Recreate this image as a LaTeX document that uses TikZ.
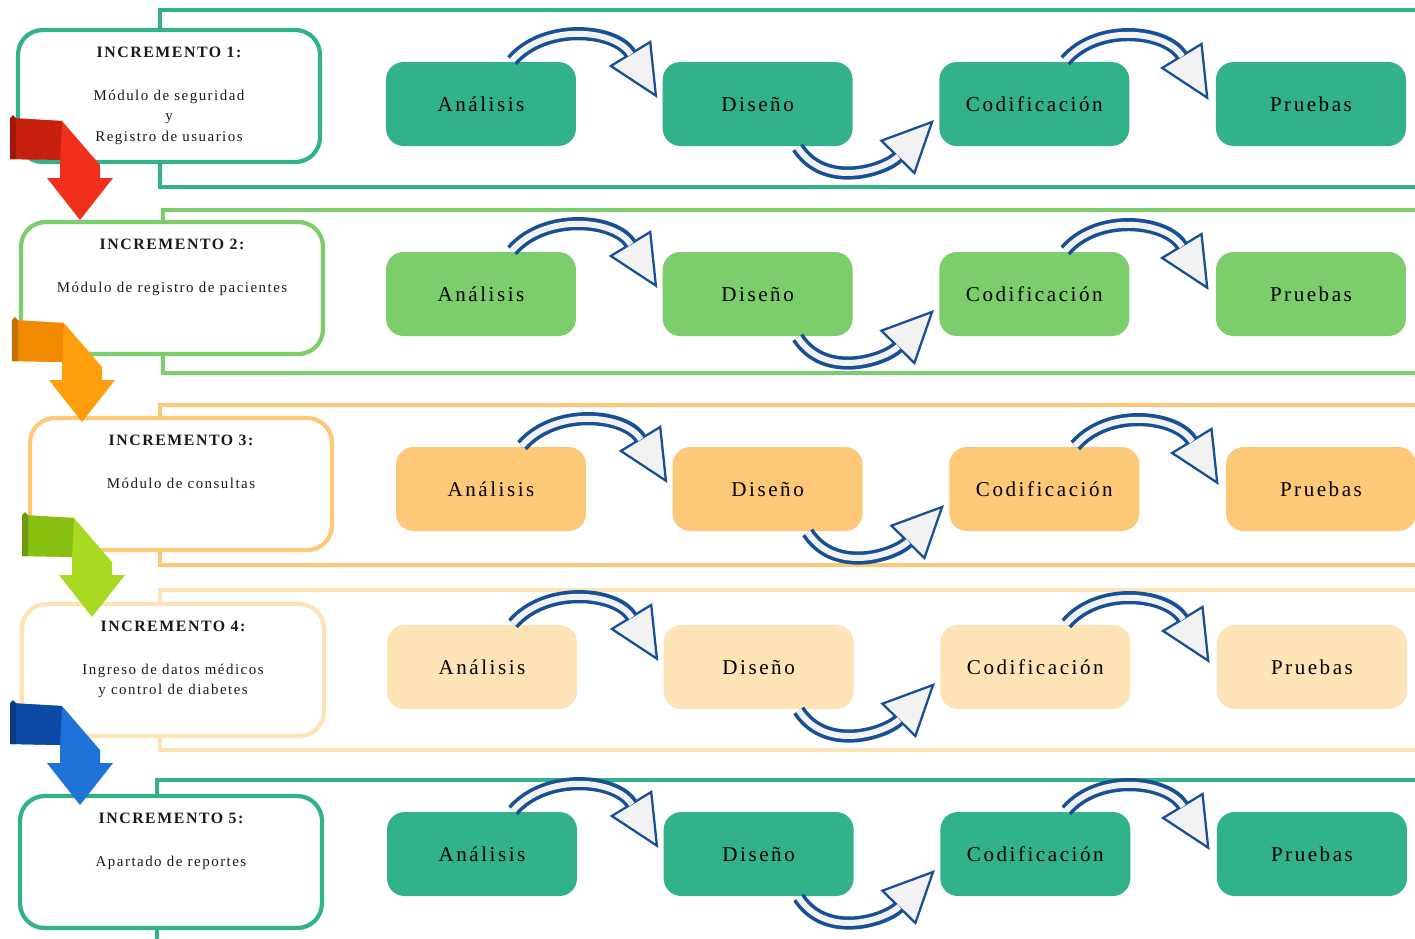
\documentclass[tikz,border=0pt]{standalone}
\usepackage{fontspec}
\setmainfont{Liberation Serif}
\newfontfamily\fasefont[LetterSpace=12]{Liberation Serif}
\newfontfamily\incfont[LetterSpace=10]{Liberation Serif}
\usepackage{tikz}
\usetikzlibrary{positioning,arrows.meta}

\definecolor{verdeA}{RGB}{50,178,138}
\definecolor{verdeB}{RGB}{124,205,107}
\definecolor{naranja}{RGB}{253,200,120}
\definecolor{crema}{RGB}{253,227,182}
\definecolor{azulF}{RGB}{24,80,150}
\definecolor{rojoC}{RGB}{240,48,28}
\definecolor{rojoO}{RGB}{200,32,14}
\definecolor{naraC}{RGB}{255,158,13}
\definecolor{naraO}{RGB}{242,138,0}
\definecolor{limaC}{RGB}{168,218,34}
\definecolor{limaO}{RGB}{136,192,18}
\definecolor{azulC}{RGB}{30,114,216}
\definecolor{azulO}{RGB}{12,74,166}

\begin{document}
\begin{tikzpicture}[
	x=0.02cm, y=-0.02cm,
	node distance=1.72cm,
	fase/.style={rectangle, rounded corners=10pt, minimum width=3.8cm,
		minimum height=1.68cm, inner sep=0pt, text=black,
		font=\fasefont\fontsize{12}{14}\selectfont},
	marco/.style={line width=2.3pt},
	incbox/.style={rectangle, rounded corners=14pt, line width=2.4pt,
		fill=white, minimum width=6.04cm, minimum height=2.64cm},
	inctxt/.style={anchor=north, align=center, inner sep=0pt, text=black!90,
		font=\incfont\fontsize{8.5}{11.6}\selectfont},
	flecha/.style={line width=3.4pt, draw=gray!10, shorten >=29pt,
		preaction={draw=azulF, line width=7.5pt, shorten >=0pt,
			-{Triangle[length=30pt,width=28pt,line width=1.3pt,fill=gray!10]}}}
  ]

  \useasboundingbox (0,0) rectangle (1415,938);
  \fill[white] (0,0) rectangle (1415,938);
  \clip (0,0) rectangle (1415,938);

  % one band per increment
  \foreach \n/\ft/\fb/\fl/\ix/\iy/\c/\dx/\col/\desc in {
	1/10/187/160/169/96/104/0/verdeA/{M\'odulo de seguridad\\y\\Registro de usuarios},
	2/210/373/163/172/288/294/0/verdeB/{M\'odulo de registro de pacientes},
	3/405/565/160/181/484/489/10/naranja/{M\'odulo de consultas},
	4/590/750/160/173/670/667/1/crema/{Ingreso de datos m\'edicos\\y control de diabetes},
	5/780/960/157/171/862/854/1/verdeA/{Apartado de reportes}} {

  \draw[marco, draw=\col] (\fl,\ft) rectangle (1440,\fb);
  \node[incbox, draw=\col] (inc\n) at (\ix,\iy) {};
  \node[inctxt] (txt\n) at ([shift={(0,19)}]inc\n.north)
	{{\fontsize{9}{11.6}\selectfont\bfseries INCREMENTO \n:}\\[12.8pt]\desc};

  \node[fase, fill=\col] (ana\n) at (481+\dx,\c) {Análisis};
  \node[fase, fill=\col] (dis\n) [right=of ana\n] {Diseño};
  \node[fase, fill=\col] (cod\n) [right=of dis\n] {Codificación};
  \node[fase, fill=\col] (pru\n) [right=of cod\n] {Pruebas};

  \draw[flecha] ([shift={(31,-1)}]ana\n.north)
	.. controls +(33,-38) and +(-42,-69) .. ([shift={(-5,-6)}]dis\n.west);
  \draw[flecha] ([shift={(40,1)}]dis\n.south)
	.. controls +(28,43) and +(-48,49) .. ([shift={(-5,16)}]cod\n.west);
  \draw[flecha] ([shift={(31,-1)}]cod\n.north)
	.. controls +(33,-38) and +(-42,-69) .. ([shift={(-7,-4)}]pru\n.west);
  }

  % folded arrows between increments
  \foreach \rx/\ry/\cc/\co in {10/118/rojoC/rojoO, 12/320/naraC/naraO,
	22/515/limaC/limaO, 10/703/azulC/azulO} {
  \begin{scope}[shift={(\rx,\ry)}]
	\fill[\cc] (0,0) -- (52,3) -- (90,47) -- (90,60) -- (103,60) -- (70,102)
		-- (37,60) -- (50,60) -- (50,42) -- (0,41) -- cycle;
	\fill[\co] (0,0) -- (52,3) -- (50,42) -- (0,41) -- cycle;
	\fill[\co!80!black] (0,0) -- (3,-3) -- (6,0) -- (6,41) -- (0,41) -- cycle;
  \end{scope}
  }

\end{tikzpicture}
\end{document}
